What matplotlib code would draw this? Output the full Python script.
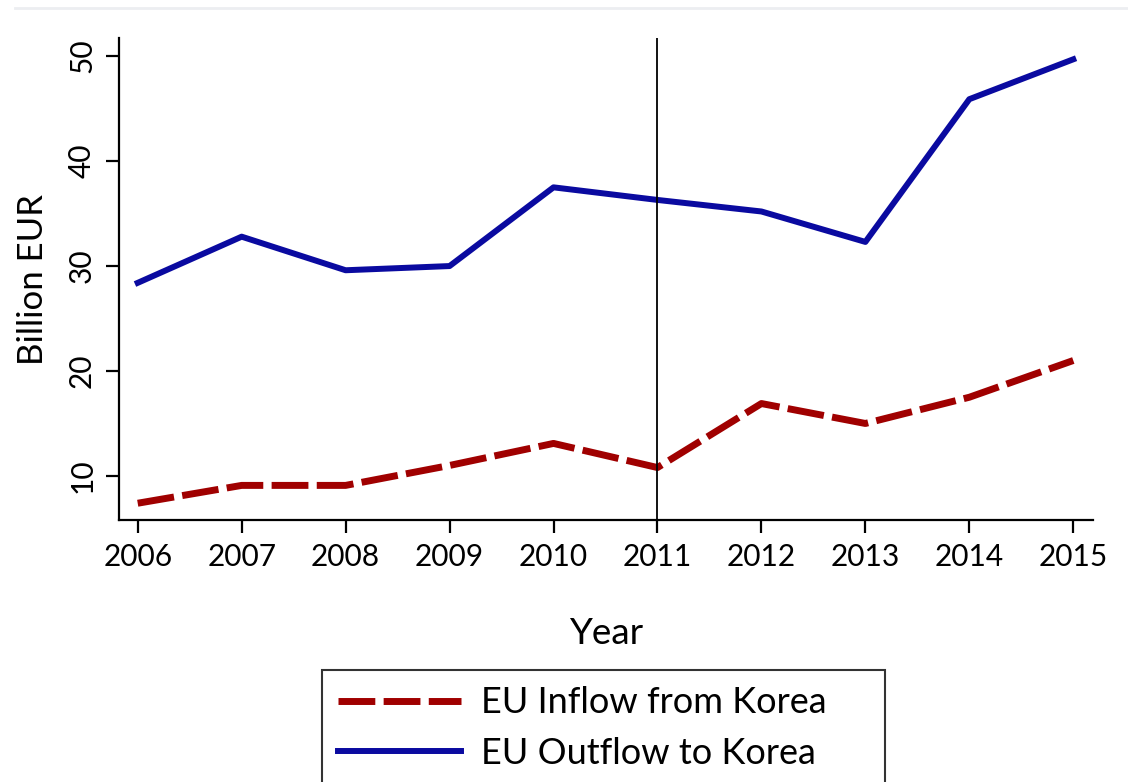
import matplotlib.pyplot as plt
from matplotlib.lines import Line2D

plt.rcParams['font.family'] = ['Lato', 'DejaVu Sans']

years = [2006, 2007, 2008, 2009, 2010, 2011, 2012, 2013, 2014, 2015]
inflow = [7.4, 9.1, 9.1, 11.0, 13.1, 10.8, 16.9, 15.0, 17.5, 21.0]
outflow = [28.4, 32.8, 29.6, 30.0, 37.5, 36.3, 35.2, 32.3, 45.9, 49.7]
y_ticks = [10, 20, 30, 40, 50]
fta_year = 2011

fig = plt.figure(figsize=(11.28, 7.82), dpi=100)
ax = fig.add_axes([0.1055, 0.335, 0.8635, 0.616])

# faint rule at the very top of the figure
fig.add_artist(Line2D([0.013, 1.0], [0.99, 0.99], color="#eceef1", lw=2))

ax.plot(years, inflow, color="#a00000", lw=5, ls=(0, (5.3, 1.2)),
        label="EU Inflow from Korea")
ax.plot(years, outflow, color="#0a0aa0", lw=4.3, label="EU Outflow to Korea")
ax.axvline(fta_year, color="black", lw=1.3)

ax.set_xlim(2005.82, 2015.19)
ax.set_ylim(5.8, 51.7)
ax.set_xticks(years)
ax.set_yticks(y_ticks)
ax.set_yticklabels([str(t) for t in y_ticks], rotation=90, va="center")

for s in ["top", "right"]:
    ax.spines[s].set_visible(False)
for s in ["left", "bottom"]:
    ax.spines[s].set_linewidth(1.6)
ax.tick_params(axis="both", length=9.5, width=1.6, labelsize=21.5, pad=7)

ax.set_xlabel("Year", fontsize=26.5, labelpad=33)
ax.set_ylabel("Billion EUR", fontsize=25, labelpad=14)

# legend box runs off the bottom edge like the original
leg = fig.legend(loc="upper left", mode="expand",
                 bbox_to_anchor=(322 / 1128, 0.0, 563 / 1128, 0.1432),
                 fontsize=26, frameon=True, fancybox=False, handlelength=3.4,
                 borderpad=0.45, labelspacing=0.48, handletextpad=0.55,
                 borderaxespad=0)
leg.get_frame().set_edgecolor("black")
leg.get_frame().set_linewidth(1.5)

fig.savefig("out.png", dpi=100)
